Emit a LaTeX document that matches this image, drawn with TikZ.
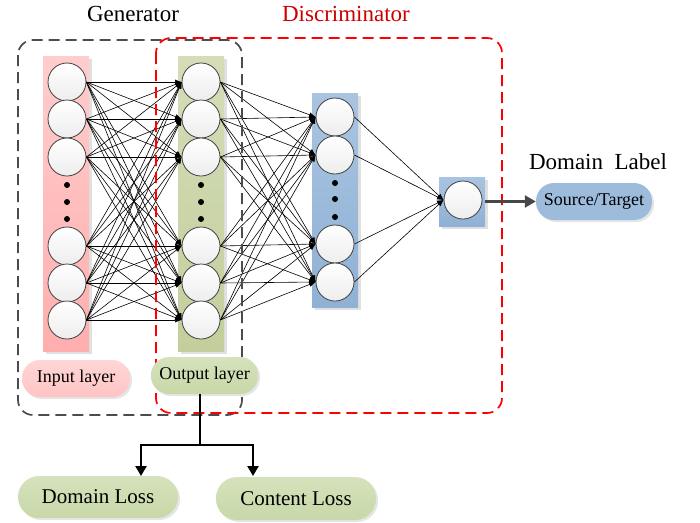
\documentclass[tikz,border=0pt]{standalone}
\usepackage{fontspec}
\setmainfont{Liberation Serif}
\usetikzlibrary{arrows.meta,shadows}
\definecolor{pinkA}{HTML}{FFCDCD}
\definecolor{pinkB}{HTML}{FFAEAE}
\definecolor{greenA}{HTML}{D4DDB8}
\definecolor{greenB}{HTML}{C3CE9C}
\definecolor{blueA}{HTML}{A9C4E0}
\definecolor{blueB}{HTML}{8FB1D5}
\definecolor{pillG}{HTML}{D5E2BC}
\definecolor{pillGB}{HTML}{C8D8A8}
\definecolor{pillP}{HTML}{FFC4C4}
\definecolor{pillB}{HTML}{9DBCDC}
\begin{document}
\begin{tikzpicture}[x=1pt,y=-1pt,
  neuron/.style={circle,draw=black!75,line width=0.8pt,minimum size=38pt,inner sep=0pt,top color=white,bottom color=black!7},
  conn/.style={line width=0.6pt,-{Latex[length=6.5pt,width=5pt]}},
  dotn/.style={circle,fill=black,minimum size=6pt,inner sep=0pt},
  colbox/.style={drop shadow={shadow xshift=2.5pt,shadow yshift=-2.5pt,fill=black!12,opacity=1}},
  pill/.style={rounded corners=18pt,minimum height=37pt,inner sep=0pt,drop shadow={shadow xshift=2pt,shadow yshift=-2pt,fill=black!10,opacity=1}},
  frame/.style={line width=1.7pt,dash pattern=on 11pt off 6pt,rounded corners=15pt},
  treeline/.style={line width=2.4pt,black},
  treearrow/.style={line width=2.4pt,black,-{Triangle[length=10pt,width=11pt]}}
]
\useasboundingbox (0,0) rectangle (700,522);

% titles
\node[font=\fontsize{23}{23}\selectfont] (gen) at (133,14) {Generator};
\node[font=\fontsize{23}{23}\selectfont,text=red!80!black] (dis) at (346,14) {Discriminator};
\node[font=\fontsize{23}{23}\selectfont] (dlab) at (598,162) {Domain\ \ Label};

% column backgrounds
\path[colbox,top color=pinkA,bottom color=pinkB] (43,56) rectangle (89,351);
\path[colbox,top color=greenA,bottom color=greenB] (178,56) rectangle (224,351);
\path[colbox,top color=blueA,bottom color=blueB] (312,93) rectangle (358,307);
\node[colbox,top color=blueA,bottom color=blueB,minimum width=46pt,minimum height=49pt,inner sep=0pt] (fbox) at (462,201.5) {};

% neurons
\foreach \n/\y in {1/82,2/119,3/157,4/246,5/283,6/320}{
  \node[neuron] (i\n) at (67,\y) {};
  \node[neuron] (o\n) at (201,\y) {};
}
\foreach \n/\y in {1/117,2/155,3/244,4/282}{
  \node[neuron] (h\n) at (335,\y) {};
}
\node[neuron] (f) at (463,200) {};

% dots
\foreach \y [count=\k] in {185,202,219}{
  \node[dotn] (di\k) at (67,\y) {};
  \node[dotn] (do\k) at (201,\y) {};
}
\foreach \y [count=\k] in {183,199,217}{
  \node[dotn] (dh\k) at (335,\y) {};
}

% connections
\foreach \a in {1,...,6}{
  \foreach \b in {1,...,6}{
    \draw[conn] (i\a.east) -- (o\b.west);
  }
  \foreach \b in {1,...,4}{
    \draw[conn] (o\a.east) -- (h\b.west);
  }
}
\foreach \a in {1,...,4}{
  \draw[conn] (h\a.east) -- (f.west);
}

% dashed frames
\draw[frame,draw=black!70] (18,40) rectangle (242,415);
\draw[frame,draw=red] (156,38) rectangle (502,413);

% pills
\node[pill,top color=pillP!70,bottom color=pillP,minimum width=108pt,font=\fontsize{18}{18}\selectfont] (inl) at (76,378.5) {Input layer};
\node[pill,top color=pillG,bottom color=pillGB,minimum width=107pt,font=\fontsize{18}{18}\selectfont] (outl) at (204.5,375.5) {Output layer};
\node[pill,fill=pillB,minimum width=116pt,font=\fontsize{18}{18}\selectfont] (st) at (594,201.5) {Source/Target};
\node[pill,rounded corners=21pt,minimum height=42pt,top color=pillG,bottom color=pillGB,minimum width=160pt,font=\fontsize{21}{21}\selectfont] (dl) at (98,497) {Domain Loss};
\node[pill,rounded corners=21pt,minimum height=43pt,top color=pillG,bottom color=pillGB,minimum width=160pt,font=\fontsize{21}{21}\selectfont] (cl) at (296,498.5) {Content Loss};

% output arrow
\draw[line width=2.5pt,draw=black!72,-{Triangle[length=11pt,width=12pt]}] (fbox.east) -- (st.west);

% loss tree
\coordinate (j) at (200,445);
\coordinate (a1) at (141,476);
\coordinate (a2) at (253,476);
\draw[treeline] (outl.south -| j) -- (j);
\draw[treearrow] (j) -| (a1);
\draw[treearrow] (j) -| (a2);
\end{tikzpicture}
\end{document}
